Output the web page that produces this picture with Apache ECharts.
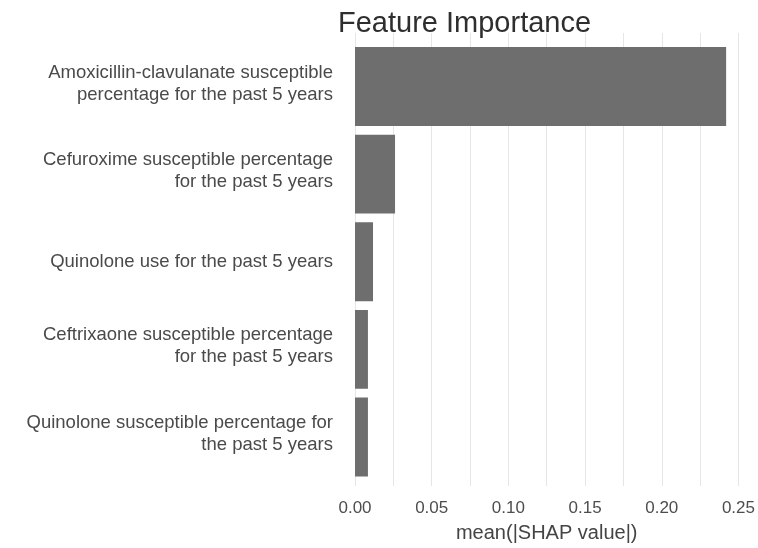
<!DOCTYPE html>
<html>
<head>
<meta charset="utf-8">
<script src="https://cdn.jsdelivr.net/npm/echarts@6/dist/echarts.min.js"></script>
<style>
  html, body { margin: 0; padding: 0; background: #ffffff; }
  #chart { width: 758px; height: 548px; }
</style>
</head>
<body>
<div id="chart"></div>
<script>
// Feature names (top to bottom) and their mean absolute SHAP values
const features = [
  'Amoxicillin-clavulanate susceptible\npercentage for the past 5 years',
  'Cefuroxime susceptible percentage\nfor the past 5 years',
  'Quinolone use for the past 5 years',
  'Ceftrixaone susceptible percentage\nfor the past 5 years',
  'Quinolone susceptible percentage for\nthe past 5 years'
];
const meanAbsShap = [0.241, 0.026, 0.0117, 0.0084, 0.0084];

// Axis range and gridline spacing
const xMin = 0;
const xMax = 0.25;
const gridStep = 0.025;
const labelStep = 0.05;

const FONT = 'Liberation Sans, Arial, sans-serif';

// Two-line labels get a thin spacer line below so they sit a little above the bar centre
function featureLabel(name) {
  if (name.indexOf('\n') >= 0) {
    return name.split('\n').map(function (l) { return '{a|' + l + '}'; }).join('\n') + '\n{s| }';
  }
  return '{a|' + name + '}';
}

const chart = echarts.init(document.getElementById('chart'), null, { renderer: 'canvas' });

chart.setOption({
  backgroundColor: '#ffffff',
  animation: false,
  title: {
    text: 'Feature Importance',
    left: 338,
    top: 9,
    padding: 0,
    textStyle: { fontFamily: FONT, fontSize: 29, fontWeight: 'normal', color: '#2e2e2e' }
  },
  grid: [
    // Panel with gridlines and the value axis
    { left: 355, right: 18, top: 33, bottom: 60 },
    // Inner band holding the bars (panel minus the discrete-axis padding)
    { left: 355, right: 18, top: 42.7, bottom: 67.2 }
  ],
  xAxis: [
    {
      gridIndex: 0,
      type: 'value',
      min: xMin,
      max: xMax,
      interval: gridStep,
      name: 'mean(|SHAP value|)',
      nameLocation: 'middle',
      nameGap: 37,
      nameTextStyle: { fontFamily: FONT, fontSize: 20, color: '#444444' },
      axisLine: { show: false },
      axisTick: { show: false },
      axisLabel: {
        margin: 14,
        fontFamily: FONT,
        fontSize: 17,
        color: '#4d4d4d',
        formatter: function (v) {
          const k = Math.round(v / gridStep);
          return (k % Math.round(labelStep / gridStep) === 0) ? v.toFixed(2) : '';
        }
      },
      splitLine: { show: true, lineStyle: { color: '#e6e6e6', width: 1 } }
    },
    {
      gridIndex: 1,
      type: 'value',
      min: xMin,
      max: xMax,
      show: false
    }
  ],
  yAxis: [
    {
      gridIndex: 0,
      type: 'value',
      show: false
    },
    {
      gridIndex: 1,
      type: 'category',
      inverse: true,
      data: features,
      axisLine: { show: false },
      axisTick: { show: false },
      splitLine: { show: false },
      axisLabel: {
        margin: 22,
        align: 'right',
        formatter: featureLabel,
        rich: {
          a: { fontFamily: FONT, fontSize: 18.5, lineHeight: 22, color: '#4a4a4a', align: 'right' },
          s: { fontSize: 1, lineHeight: 6, align: 'right' }
        }
      }
    }
  ],
  series: [
    {
      type: 'bar',
      xAxisIndex: 1,
      yAxisIndex: 1,
      data: meanAbsShap,
      barWidth: '90%',
      itemStyle: { color: '#6e6e6e' },
      silent: true
    }
  ]
});
</script>
</body>
</html>
